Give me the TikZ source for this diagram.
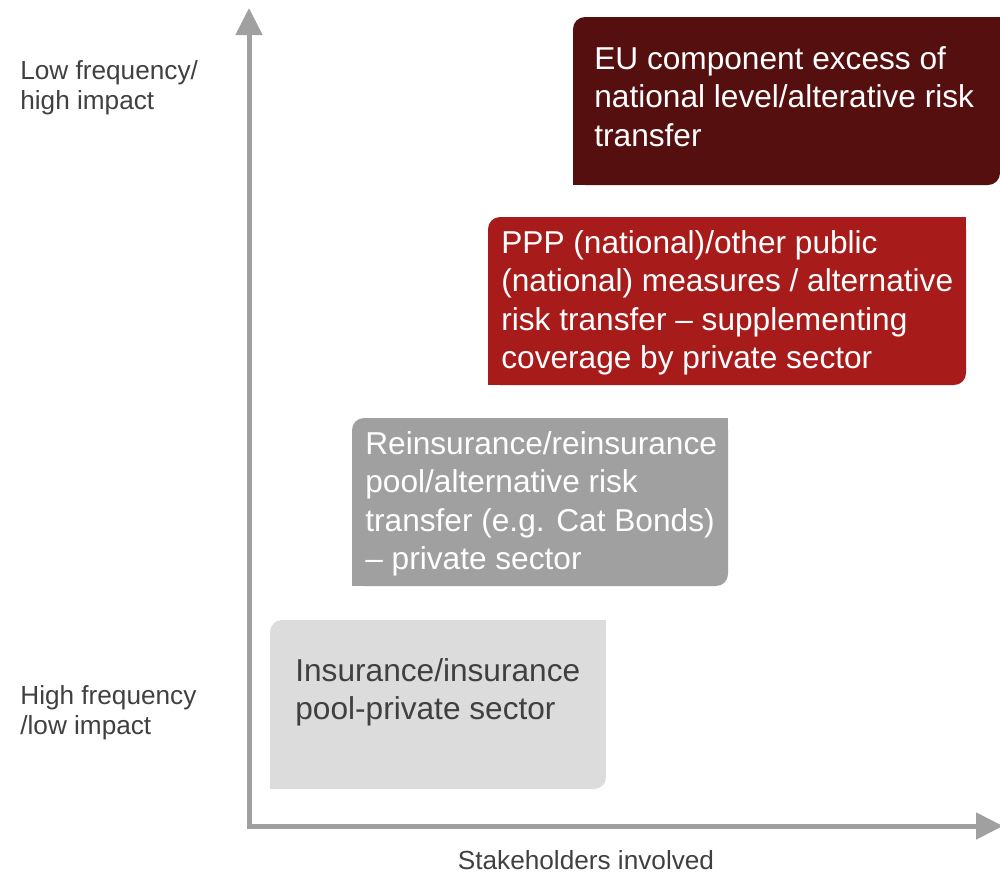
\documentclass[tikz,border=0pt]{standalone}
\usepackage{fontspec}
\setmainfont{Liberation Sans}
\usetikzlibrary{arrows.meta}

\definecolor{eudark}{HTML}{560F0F}
\definecolor{pppred}{HTML}{A71B1A}
\definecolor{reinsgray}{HTML}{A0A0A0}
\definecolor{insgray}{HTML}{DCDCDC}
\definecolor{axisgray}{HTML}{A0A0A0}
\definecolor{labelgray}{HTML}{404040}

\tikzset{
  boxtext/.style={anchor=north west, align=left, inner sep=0pt,
    font=\fontsize{18}{21.9}\selectfont, text=white},
  axislabel/.style={anchor=north west, align=left, inner sep=0pt,
    font=\fontsize{14.9}{17.1}\selectfont, text=labelgray},
  axisline/.style={draw=axisgray, line width=0.1cm,
    {Triangle[width=0.52cm,length=0.54cm]}-{Triangle[width=0.52cm,length=0.54cm]}}
}

\newcommand{\riskbox}[5]{%
  \fill[#1,rounded corners=0.24cm] (#2,#5) -- (#2,#3) -- (#4,#3) -- (#4,#5) -- cycle;
  \fill[#1] (#4-14,#3) rectangle (#4,#3+14);
  \fill[#1] (#2,#5-14) rectangle (#2+14,#5);
}

\begin{document}
\begin{tikzpicture}[x=0.2mm,y=-0.2mm]
  \useasboundingbox (0,0) rectangle (1000,875);

  \riskbox{eudark}{573}{17}{1000}{185}
  \riskbox{pppred}{488}{217}{966}{385}
  \riskbox{reinsgray}{352}{418}{728}{586}
  \riskbox{insgray}{270}{620}{606}{789}

  \coordinate (ytop) at (249,8);
  \coordinate (origin) at (249,826);
  \coordinate (xend) at (1003,826);
  \draw[axisline] (ytop) -- (origin) -- (xend);

  \node[boxtext] (eu) at (594,46) {EU component excess of\\national level/alterative risk\\transfer};
  \node[boxtext] (ppp) at (501,230) {PPP (national)/other public\\(national) measures / alternative\\risk transfer -- supplementing\\coverage by private sector};
  \node[boxtext] (reins) at (365,431) {Reinsurance/reinsurance\\pool/alternative risk\\transfer (e.g. Cat Bonds)\\-- private sector};
  \node[boxtext, text=labelgray] (ins) at (295,658) {Insurance/insurance\\pool-private sector};

  \node[axislabel] (lowfreq) at (20,60) {Low frequency/\\high impact};
  \node[axislabel] (highfreq) at (20,685) {High frequency\\/low impact};
  \node[axislabel, anchor=center] (stake) at (586,860) {Stakeholders involved};
\end{tikzpicture}
\end{document}
